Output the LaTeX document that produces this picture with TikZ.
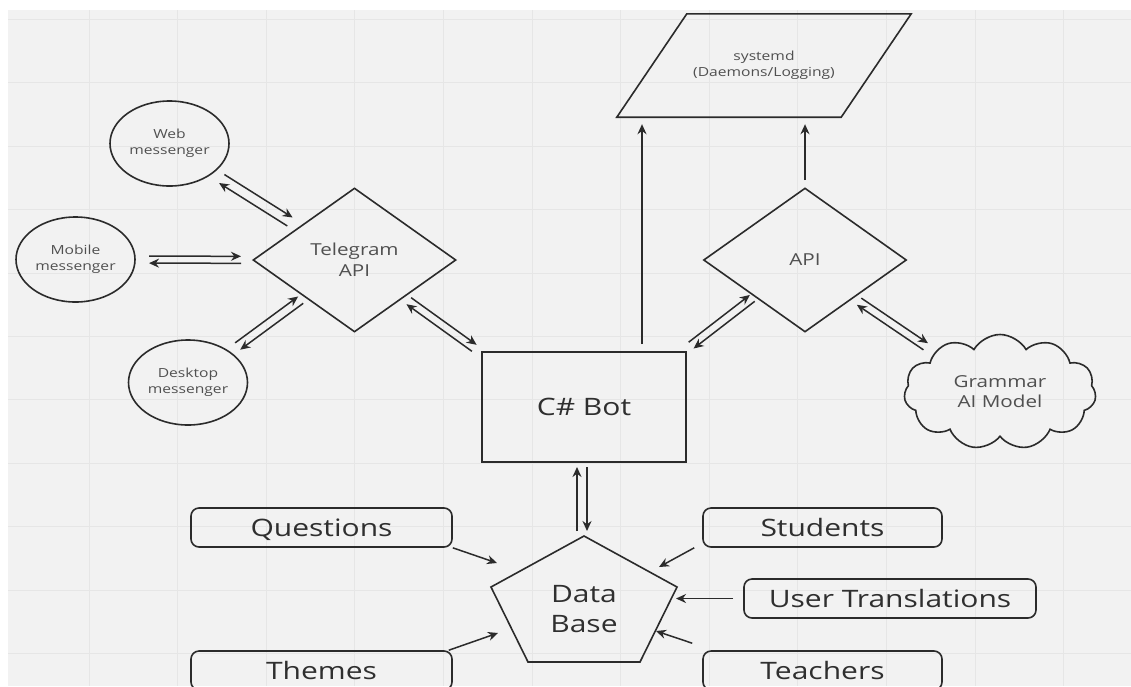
\documentclass[tikz,border=0pt]{standalone}
\usepackage{fontspec}
\setmainfont{Open Sans}[FakeStretch=1.25]
\usetikzlibrary{shapes.geometric,shapes.symbols,arrows.meta,calc}

\definecolor{bgcol}{HTML}{F2F2F2}
\definecolor{gridcol}{HTML}{E6E6E6}
\definecolor{linecol}{HTML}{2B2B2B}
\definecolor{txtcol}{HTML}{2F2F2F}
\definecolor{smalltxt}{HTML}{505050}

% two arrows side by side, one each way
\newcommand{\twoway}[6]{%
  \draw[conn, shorten <=#3, shorten >=#4] ($(#1)!#5!90:(#2)$) -- ($(#2)!#5!-90:(#1)$);
  \draw[conn, shorten <=#4, shorten >=#3] ($(#2)!#6!90:(#1)$) -- ($(#1)!#6!-90:(#2)$);
}

\begin{document}
\begin{tikzpicture}[x=1pt, y=-1pt,
    outline/.style={draw=linecol, line width=1.6pt},
    conn/.style={draw=linecol, line width=1.5pt, -{Stealth[length=10pt,width=9pt]}},
    messenger/.style={outline, ellipse, minimum width=119pt, minimum height=85pt, inner sep=0pt,
      align=center, text=smalltxt, font=\fontsize{12.5}{16}\selectfont},
    gate/.style={outline, diamond, minimum width=203pt, minimum height=144pt, inner sep=0pt,
      align=center, text=smalltxt, font=\fontsize{16.5}{21}\selectfont},
    entity/.style={outline, rounded corners=8pt, minimum height=39pt, inner sep=0pt,
      text height=17pt, text depth=0pt, text=txtcol, font=\fontsize{24}{28}\selectfont}]

    \useasboundingbox (0,0) rectangle (1131,686);

    % Background and grid
    \fill[white] (0,0) rectangle (1131,686);
    \fill[bgcol] (8,10) rectangle (1131,686);
    \foreach \gx in {0,...,11}
        \draw[gridcol, line width=1pt] ({89+88.6*\gx},10) -- ({89+88.6*\gx},686);
    \foreach \gy in {0,...,10}
        \draw[gridcol, line width=1pt] (8,{19.4+63.4*\gy}) -- (1131,{19.4+63.4*\gy});

    % Messengers
    \node[messenger] (web) at (169.5,143.5) {Web\\messenger};
    \node[messenger] (mob) at (75.5,259.5) {Mobile\\messenger};
    \node[messenger] (desk) at (188,382.5) {Desktop\\messenger};

    % APIs
    \node[gate] (tg) at (354.5,260) {Telegram\\API};
    \node[gate] (api) at (805,260) {API};

    % Bot
    \node[outline, minimum width=204pt, minimum height=110pt, inner sep=0pt,
      text height=17pt, text depth=0pt, text=txtcol, font=\fontsize{24}{28}\selectfont]
      (bot) at (584,407) {C\# Bot};

    % systemd
    \node[minimum width=294pt, minimum height=103pt, inner sep=0pt, align=center,
      text=smalltxt, font=\fontsize{12.5}{16}\selectfont]
      (sys) at (764,65.5) {systemd\\(Daemons/Logging)};
    \draw[outline] (sys.south west) -- ([xshift=-70pt]sys.south east)
        -- (sys.north east) -- ([xshift=70pt]sys.north west) -- cycle;

    % Grammar model
    \node[outline, cloud, cloud puffs=11, cloud puff arc=120, aspect=1.66,
      minimum width=192pt, minimum height=115pt, inner sep=0pt, align=center,
      text=smalltxt, font=\fontsize{16.5}{20}\selectfont]
      (gram) at (1000,392) {Grammar\\AI Model};

    % Data base
    \node[align=center, text=txtcol, font=\fontsize{24}{30}\selectfont] (db) at (584,609) {Data\\Base};
    \draw[outline] (db) ++(0,-73) -- ++(93,51) -- ++(-37,75) -- ++(-112,0) -- ++(-37,-75) -- cycle;

    % Tables
    \node[entity, minimum width=261pt] (q) at (321.5,527.5) {Questions};
    \node[entity, minimum width=261pt] (th) at (321.5,670.5) {Themes};
    \node[entity, minimum width=239pt] (st) at (822.5,527.5) {Students};
    \node[entity, minimum width=292pt] (ut) at (890,598.5) {User Translations};
    \node[entity, minimum width=239pt] (te) at (822.5,670.5) {Teachers};

    % Arrow ends at the data base
    \coordinate (db-q) at (497,563);
    \coordinate (db-th) at (498,633);
    \coordinate (db-st) at (659,567);
    \coordinate (db-ut) at (676,598.5);
    \coordinate (db-te) at (656,631);

    % Two way links
    \twoway{web}{tg}{63pt}{75pt}{3pt}{7pt}
    \twoway{mob}{tg}{73.5pt}{113.5pt}{3.5pt}{3.5pt}
    \twoway{desk}{tg}{61.5pt}{67pt}{4pt}{4.5pt}
    \twoway{tg}{bot.north west}{68pt}{7.5pt}{2.5pt}{5.5pt}
    \twoway{bot.north east}{api}{7pt}{65pt}{6pt}{2pt}
    \twoway{api}{gram}{68pt}{87pt}{0pt}{8pt}
    \twoway{db}{bot}{78pt}{60pt}{7pt}{3pt}

    % Logging
    \draw[conn, shorten <=7pt, shorten >=7pt] ([xshift=58pt]bot.north) -- ([xshift=58pt]bot.north |- sys.south);
    \draw[conn, shorten <=7pt, shorten >=7pt] (api.north) -- (api.north |- sys.south);

    % Tables into the data base
    \draw[conn] (q.south east) -- (db-q);
    \draw[conn] ([xshift=-4pt]th.north east) -- (db-th);
    \draw[conn] ([xshift=-8pt]st.south west) -- (db-st);
    \draw[conn] ([xshift=-10pt]ut.west) -- (db-ut);
    \draw[conn] ([shift={(-10,-7)}]te.north west) -- (db-te);
\end{tikzpicture}
\end{document}
